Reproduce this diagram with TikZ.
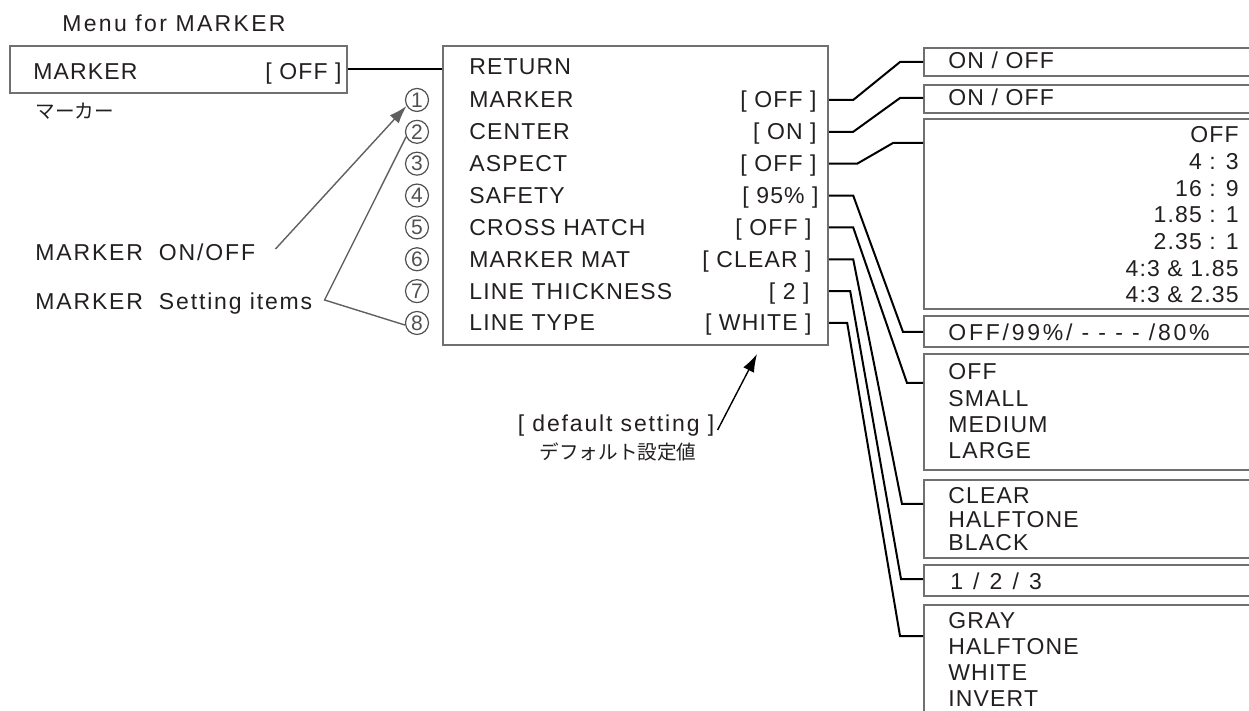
\documentclass[tikz,border=0pt]{standalone}
\usepackage{fontspec}
\setmainfont{Liberation Sans}[LetterSpace=5]
\newfontfamily\jpfont{Noto Sans CJK JP}
\usetikzlibrary{arrows.meta}
\definecolor{boxgray}{RGB}{112,112,112}
\definecolor{notegray}{RGB}{96,96,96}
\definecolor{numgray}{RGB}{80,80,80}
\definecolor{inkdark}{RGB}{35,31,32}
\tikzset{
 menubox/.style={draw=boxgray, line width=1.2pt, inner sep=0pt},
 optbox/.style={menubox, anchor=north west, minimum width=188.5pt},
 item/.style={font=\fontsize{11.5}{13.8}\selectfont, text=inkdark,
  inner sep=0pt, text height=10pt, text depth=2pt},
 wideitem/.style={item, font=\addfontfeatures{LetterSpace=#1}\fontsize{11.5}{13.8}\selectfont},
 jptext/.style={font=\jpfont\fontsize{9.8}{12}\selectfont, text=inkdark, inner sep=0pt},
 num/.style={circle, draw=numgray, line width=0.6pt, minimum size=11.5pt, inner sep=0pt,
  font=\addfontfeatures{LetterSpace=0}\fontsize{10.5}{12}\selectfont, text=numgray},
 link/.style={draw=black, line width=1pt},
 note/.style={draw=notegray, line width=0.7pt}
}
\begin{document}
\begin{tikzpicture}[x=0.5pt, y=-0.5pt]
% page = 1249 x 711 px, one unit = one pixel, y runs downward
\useasboundingbox (0,0) rectangle (1249,711);
\clip (0,0) rectangle (1249,711);
% entry in the top menu
\node[wideitem=10, anchor=west] (title) at (62,24) {Menu for MARKER};
\node[menubox, minimum width=168.5pt, minimum height=23.5pt] (entry) at (178.5,69.5) {};
\node[item, anchor=west] (entry-lbl) at (33,72) {MARKER};
\node[item, anchor=east] (entry-val) at (342,72) {[ OFF ]};
\node[jptext, anchor=west] (entry-jp) at (35,111) {マーカー};
% the MARKER sub-menu
\node[menubox, minimum width=192.5pt, minimum height=149.5pt] (menu) at (635.5,195.5) {};
\node[item, anchor=west] (ret) at (469,67) {RETURN};
\foreach \i/\lbl/\val/\vx in {1/MARKER/{[ OFF ]}/817, 2/CENTER/{[ ON ]}/817,
  3/ASPECT/{[ OFF ]}/817, 4/SAFETY/{[ 95\% ]}/819,
  5/CROSS HATCH/{[ OFF ]}/812, 6/MARKER MAT/{[ CLEAR ]}/812,
  7/LINE THICKNESS/{[ 2 ]}/810, 8/LINE TYPE/{[ WHITE ]}/812}
{
 \node[item, anchor=west] (i\i) at (469, 68.1+31.86*\i) {\lbl};
 \node[item, anchor=east] (v\i) at (\vx, 68.1+31.86*\i) {\val};
 \node[num] (c\i) at (417, 68.1+31.86*\i) {\i};
}
\draw[link] (entry.east) -- (entry.east -| menu.west);
% option boxes, cut by the right page edge
\foreach \n/\top/\h in {1/47/14, 2/84/14, 3/118/95, 4/315/15.5,
  5/353/58, 6/479/39, 7/564/15.5, 8/604/70}
 \node[optbox, minimum height=\h*1pt] (opt\n) at (923,\top) {};
\node[item, anchor=west] (on1) at (948,61) {ON / OFF};
\node[item, anchor=west] (on2) at (948,98) {ON / OFF};
\foreach \t [count=\k from 0] in {OFF, 4 : 3, 16 : 9, 1.85 : 1, 2.35 : 1, 4:3 \& 1.85, 4:3 \& 2.35}
 \node[item, anchor=east] (asp\k) at (1239, 135+26.65*\k) {\t};
\node[wideitem=12, anchor=west] (safe) at (948,333) {OFF/99\%/ - - - - /80\%};
\foreach \t [count=\k from 0] in {OFF, SMALL, MEDIUM, LARGE}
 \node[item, anchor=west] (hatch\k) at (948, 372+26.3*\k) {\t};
\foreach \t [count=\k from 0] in {CLEAR, HALFTONE, BLACK}
 \node[item, anchor=west] (mat\k) at (948, 495+24*\k) {\t};
\node[wideitem=16, anchor=west] (thick) at (950,581) {1 / 2 / 3};
\foreach \t [count=\k from 0] in {GRAY, HALFTONE, WHITE, INVERT}
 \node[item, anchor=west] (ltype\k) at (948, 620+26.3*\k) {\t};
% links: value -> option box (stub, slant, stub)
\foreach \n/\a/\b/\d in {1/24/11.5/7.5, 2/24/11.5/7, 3/28/15/12.5, 4/24/10/8.5,
  5/24/8/15, 6/24/10.5/12.5, 7/21/11/7.5, 8/18/11.5/16}
 \draw[link] (v\n -| menu.east) -- ++(\a,0)
  -- ([xshift=-\b*1pt, yshift=-\d*1pt]opt\n.north west)
  -- ([yshift=-\d*1pt]opt\n.north west);
% notes on the left
\node[wideitem=8, anchor=west] (onoff) at (35,253) {MARKER\hspace{8pt}ON/OFF};
\node[wideitem=8, anchor=west] (setitems) at (35,302) {MARKER\hspace{8pt}Setting items};
\draw[note, -{Latex[length=9pt,width=6pt]}, fill=notegray]
 ([xshift=10pt, yshift=2pt]onoff.east) -- (c1.210);
\coordinate (fork) at ([xshift=6pt, yshift=1pt]setitems.east);
\draw[note] (c2.205) -- (fork) -- (c8.190);
% default setting note
\node[wideitem=8] (deflt) at (616,423) {[ default setting ]};
\node[jptext] (deflt-jp) at (618,452) {デフォルト設定値};
\coordinate (deftip) at (757,354);
\draw[link, line width=0.7pt, -{Latex[length=9pt,width=6pt]}]
 ([xshift=1.5pt, yshift=-3.5pt]deflt.east) -- (deftip);
\end{tikzpicture}
\end{document}
